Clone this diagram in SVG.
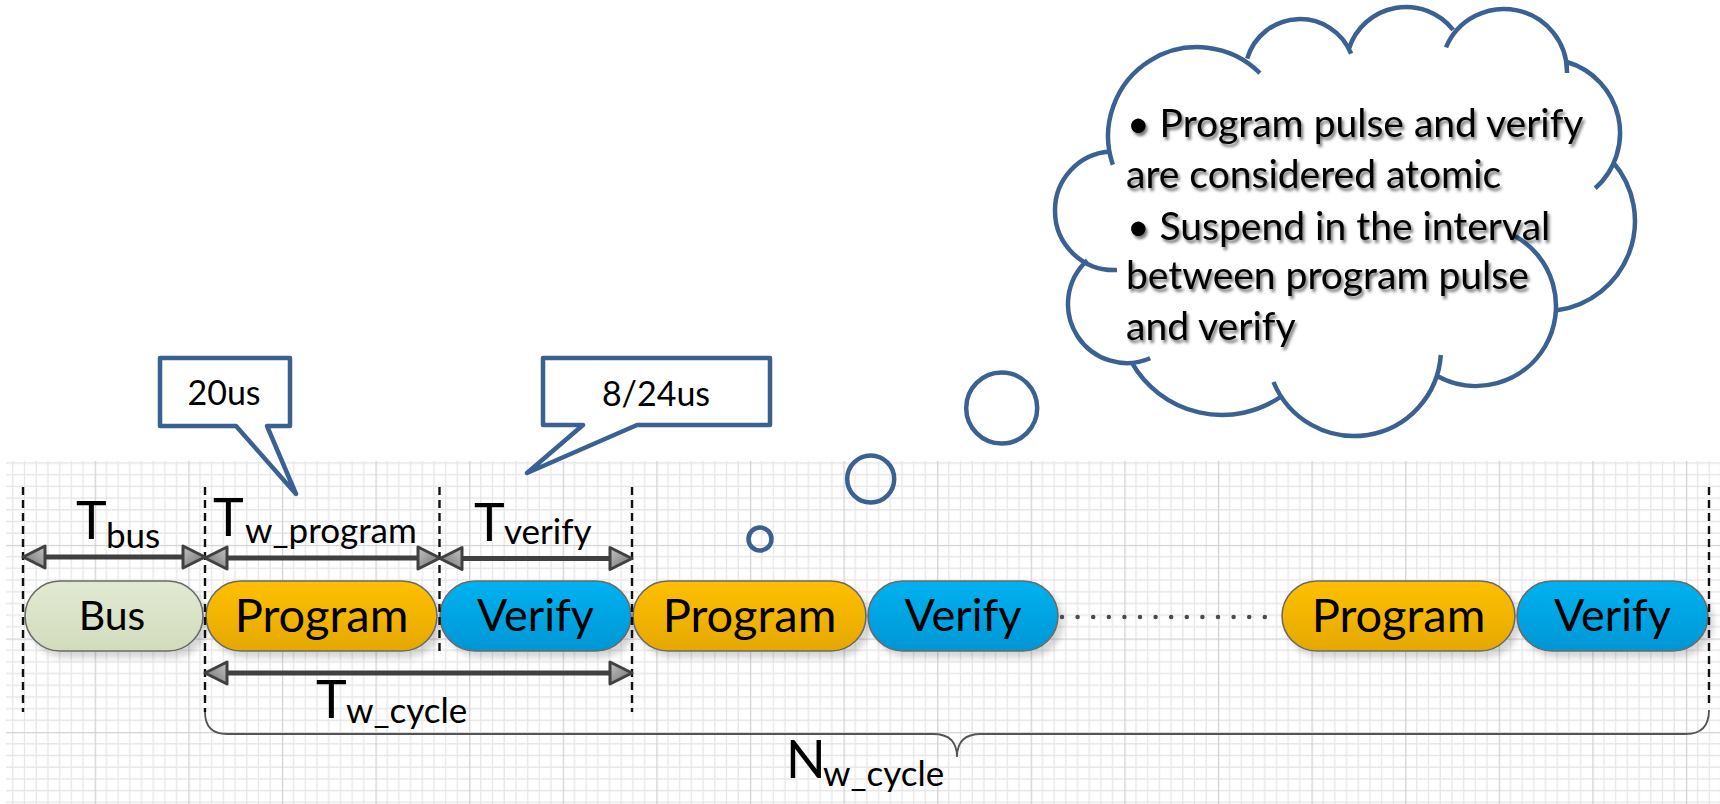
<svg xmlns="http://www.w3.org/2000/svg" xmlns:xlink="http://www.w3.org/1999/xlink" width="1720" height="804" viewBox="0 0 1720 804">
  <defs>
    <style>
      text { font-family: Lato, "Open Sans", "Liberation Sans", sans-serif; fill: #000; }
      .blue { fill: none; stroke: #3b6192; stroke-width: 4.5; stroke-linecap: butt; }
      .callout { fill: #fff; stroke: #3b6192; stroke-width: 4.5; stroke-linejoin: round; }
      .pill { stroke: #6a6a6a; stroke-width: 1.6; filter: url(#pillShadow); }
      .pilltxt { font-size: 45px; text-anchor: middle; }
      .prog { font-size: 47px; }
      .dash { fill: none; stroke: #111; stroke-width: 2.4; stroke-dasharray: 8 5; }
      .shaft { fill: none; stroke: #404040; stroke-width: 5; }
      .ahead { fill: url(#gHead); stroke: #404040; stroke-width: 3; stroke-linejoin: round; }
      .brace { fill: none; stroke: #555; stroke-width: 1.8; }
      .dots { fill: none; stroke: #4a4a4a; stroke-width: 4.5; stroke-linecap: round; stroke-dasharray: 0 15.6; }
      .big { font-size: 52px; }
      .sub { font-size: 35px; }
      .note { font-size: 39px; filter: url(#textShadow); }
      .tag { font-size: 34px; text-anchor: middle; }
    </style>

    <!-- graph paper: minor 11.7 px, heavier line every 8 cells -->
    <pattern id="grid" patternUnits="userSpaceOnUse" x="1.1" y="544.9" width="93.6" height="93.6">
      <path d="M11.7 0V93.6M23.4 0V93.6M35.1 0V93.6M46.8 0V93.6M58.5 0V93.6M70.2 0V93.6M81.9 0V93.6M0 11.7H93.6M0 23.4H93.6M0 35.1H93.6M0 46.8H93.6M0 58.5H93.6M0 70.2H93.6M0 81.9H93.6" stroke="#e7e7e7" stroke-width="1.3"/>
      <path d="M0.65 0V93.6M0 0.65H93.6" stroke="#d3d3d3" stroke-width="1.3"/>
    </pattern>

    <linearGradient id="gProg" x1="0" y1="0" x2="0" y2="1">
      <stop offset="0" stop-color="#ffc000"/>
      <stop offset="1" stop-color="#e4a800"/>
    </linearGradient>
    <linearGradient id="gVer" x1="0" y1="0" x2="0" y2="1">
      <stop offset="0" stop-color="#00b2f0"/>
      <stop offset="1" stop-color="#0096d4"/>
    </linearGradient>
    <linearGradient id="gBus" x1="0" y1="0" x2="0" y2="1">
      <stop offset="0" stop-color="#e2e9d2"/>
      <stop offset="1" stop-color="#d2dcbc"/>
    </linearGradient>
    <linearGradient id="gHead" x1="0" y1="0" x2="1" y2="1">
      <stop offset="0" stop-color="#c4c4c4"/>
      <stop offset="1" stop-color="#6e6e6e"/>
    </linearGradient>

    <filter id="pillShadow" x="-10%" y="-20%" width="125%" height="160%">
      <feDropShadow dx="5" dy="6" stdDeviation="3" flood-color="#000" flood-opacity="0.16"/>
    </filter>
    <filter id="textShadow" x="-5%" y="-30%" width="110%" height="170%">
      <feDropShadow dx="2" dy="3" stdDeviation="1.6" flood-color="#000" flood-opacity="0.55"/>
    </filter>

    <!-- arrowhead pointing right, tip at origin -->
    <path id="ah" class="ahead" d="M0 0L-22 -11L-22 11Z"/>
  </defs>

  <rect width="1720" height="804" fill="#fff"/>
  <rect x="6" y="461" width="1714" height="343" fill="url(#grid)"/>

  <!-- thought cloud: one arc per lobe, each running slightly past its neighbour -->
  <g id="cloud">
    <path class="blue" d="M1112.8 164.7A89 89 0 0 1 1259.9 73.1
      M1247.2 58.7A55 55 0 0 1 1351.1 53.7
      M1348.8 49A60 60 0 0 1 1453.2 29.9
      M1446 47.4A63 63 0 0 1 1567 73
      M1567 62A74 74 0 0 1 1595.2 188.3
      M1612.9 162A90 90 0 0 1 1557.1 310.2
      M1513.8 235.5A80 80 0 0 1 1545.3 346A80 80 0 0 1 1436.7 375.7
      M1440.8 355A87 87 0 0 1 1273.5 382
      M1281.2 396.5A104 104 0 0 1 1131.8 362.7
      M1150.2 358.3A59 59 0 0 1 1087.3 260.4
      M1117 270A59 59 0 0 1 1055 211A59 59 0 0 1 1109.4 151.5"/>
    <text class="note" x="1127" y="137">• Program pulse and verify</text>
    <text class="note" x="1126" y="188">are considered atomic</text>
    <text class="note" x="1127" y="240">• Suspend in the interval</text>
    <text class="note" x="1126" y="289">between program pulse</text>
    <text class="note" x="1126" y="340">and verify</text>
  </g>

  <g id="bubbles">
    <circle class="blue" cx="1001.7" cy="408" r="35.5" stroke-width="5"/>
    <circle class="blue" cx="870.7" cy="479" r="23.5" stroke-width="5"/>
    <circle class="blue" cx="760" cy="539" r="11.5"/>
  </g>

  <g id="callout-program-time">
    <path class="callout" d="M160 358H290V426H267L296 494L236 426H160Z"/>
    <text class="tag" x="224" y="405">20us</text>
  </g>
  <g id="callout-verify-time">
    <path class="callout" d="M543 358H770V425H637L527 473L583 425H543Z"/>
    <text class="tag" x="656" y="406">8/24us</text>
  </g>

  <g id="bus">
    <rect class="pill" x="25" y="581" width="178" height="70" rx="35" fill="url(#gBus)"/>
    <text class="pilltxt" x="112" y="630" style="font-size:41px">Bus</text>
  </g>
  <g id="program-1">
    <rect class="pill" x="206" y="581" width="231" height="70" rx="35" fill="url(#gProg)"/>
    <text class="pilltxt prog" x="321.5" y="632">Program</text>
  </g>
  <g id="verify-1">
    <rect class="pill" x="440" y="581" width="191" height="70" rx="35" fill="url(#gVer)"/>
    <text class="pilltxt" x="535.5" y="631">Verify</text>
  </g>
  <g id="program-2">
    <rect class="pill" x="633" y="581" width="233" height="70" rx="35" fill="url(#gProg)"/>
    <text class="pilltxt prog" x="749.5" y="632">Program</text>
  </g>
  <g id="verify-2">
    <rect class="pill" x="868" y="581" width="190" height="70" rx="35" fill="url(#gVer)"/>
    <text class="pilltxt" x="963" y="631">Verify</text>
  </g>
  <g id="program-n">
    <rect class="pill" x="1282" y="581" width="233" height="70" rx="35" fill="url(#gProg)"/>
    <text class="pilltxt prog" x="1398.5" y="632">Program</text>
  </g>
  <g id="verify-n">
    <rect class="pill" x="1517" y="581" width="191" height="70" rx="35" fill="url(#gVer)"/>
    <text class="pilltxt" x="1612.5" y="631">Verify</text>
  </g>

  <g id="connectors">
    <!-- boundaries -->
    <path class="dash" d="M23 487V712M205 487V712M439.5 487V653M632 487V712M1709 487V706"/>
    <!-- repeat marker between the second and the last cycle -->
    <path class="dots" d="M1062 617H1280"/>
    <!-- brace under the cycles -->
    <path class="brace" d="M205 712Q205 734 227 734H933Q957 734 957 757Q957 734 981 734H1686Q1709 734 1709 710"/>
    <!-- T_bus -->
    <path class="shaft" d="M35 557H193"/>
    <use xlink:href="#ah" transform="translate(23 557) scale(-1 1)"/>
    <use xlink:href="#ah" transform="translate(205 557)"/>
    <!-- T_w_program -->
    <path class="shaft" d="M217 558H428"/>
    <use xlink:href="#ah" transform="translate(205 558) scale(-1 1)"/>
    <use xlink:href="#ah" transform="translate(440 558)"/>
    <!-- T_verify -->
    <path class="shaft" d="M452 558.5H620"/>
    <use xlink:href="#ah" transform="translate(440 558.5) scale(-1 1)"/>
    <use xlink:href="#ah" transform="translate(632 558.5)"/>
    <!-- T_w_cycle -->
    <path class="shaft" d="M217 673H620"/>
    <use xlink:href="#ah" transform="translate(205 673) scale(-1 1)"/>
    <use xlink:href="#ah" transform="translate(632 673)"/>
  </g>

  <g id="labels">
    <text class="big" x="76" y="539">T<tspan class="sub" x="106" y="548">bus</tspan></text>
    <text class="big" x="213" y="536">T<tspan class="sub" x="245" y="543">w_program</tspan></text>
    <text class="big" x="474" y="541">T<tspan class="sub" x="504" y="544">verify</tspan></text>
    <text class="big" x="316" y="718">T<tspan class="sub" x="346" y="723">w_cycle</tspan></text>
    <text class="big" x="786" y="778">N<tspan class="sub" x="823" y="786">w_cycle</tspan></text>
  </g>
</svg>
